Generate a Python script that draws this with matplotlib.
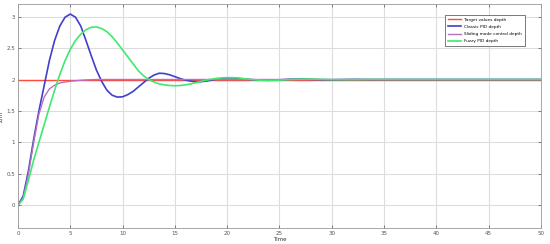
import matplotlib
matplotlib.use("Agg")
import matplotlib.pyplot as plt
import numpy as np

t = [0, 0.5, 1.0, 1.5, 2.0, 2.5, 3.0, 3.5, 4.0, 4.5, 5.0, 5.5, 6.0, 6.5, 7.0, 7.5,
     8.0, 8.5, 9.0, 9.5, 10.0, 10.5, 11.0, 11.5, 12.0, 12.5, 13.0, 13.5, 14.0, 14.5,
     15.0, 15.5, 16.0, 16.5, 17.0, 17.5, 18.0, 18.5, 19.0, 19.5, 20.0, 20.5, 21.0,
     21.5, 22.0, 23.0, 24.0, 25.0, 26.0, 27.0, 28.0, 29.0, 30.0, 32.0, 34.0, 36.0,
     40.0, 45.0, 50.0]

target = [2.0] * len(t)

classic_pid = [0, 0.15, 0.55, 1.05, 1.5, 1.9, 2.3, 2.62, 2.85, 2.99, 3.04, 2.99, 2.85,
               2.62, 2.38, 2.15, 1.97, 1.83, 1.75, 1.72, 1.725, 1.76, 1.81, 1.88, 1.95,
               2.02, 2.07, 2.1, 2.095, 2.075, 2.045, 2.015, 1.99, 1.975, 1.965, 1.965,
               1.975, 1.99, 2.005, 2.018, 2.025, 2.025, 2.018, 2.01, 2.002, 1.99, 1.988,
               1.995, 2.005, 2.008, 2.003, 1.997, 1.996, 2.002, 1.999, 2.0, 2.0, 2.0, 2.0]

sliding_mode = [0, 0.12, 0.5, 1.0, 1.45, 1.72, 1.85, 1.91, 1.945, 1.96, 1.972, 1.98,
                1.988, 1.993, 1.997, 2.0, 2.0, 2.0, 2.0, 2.0, 2.0, 2.0, 2.0, 2.0, 2.0,
                2.0, 2.0, 2.0, 2.0, 2.0, 2.0, 2.0, 2.0, 2.0, 2.0, 2.0, 2.0, 2.0, 2.0,
                2.0, 2.0, 2.0, 2.0, 2.0, 2.0, 2.0, 2.0, 2.0, 2.0, 2.0, 2.0, 2.0, 2.0,
                2.0, 2.0, 2.0, 2.0, 2.0, 2.0]

fuzzy_pid = [0, 0.1, 0.4, 0.72, 1.0, 1.28, 1.56, 1.83, 2.08, 2.3, 2.48, 2.62, 2.72,
             2.79, 2.83, 2.835, 2.81, 2.76, 2.68, 2.58, 2.47, 2.36, 2.25, 2.14, 2.06,
             2.0, 1.96, 1.93, 1.915, 1.905, 1.9, 1.905, 1.915, 1.93, 1.95, 1.97, 1.99,
             2.005, 2.018, 2.025, 2.03, 2.03, 2.025, 2.015, 2.005, 1.99, 1.985, 1.99,
             2.0, 2.006, 2.006, 2.002, 1.998, 1.998, 2.001, 2.0, 2.0, 2.0, 2.0]

labels = ["Target values depth", "Classic PID depth",
          "Sliding mode control depth", "Fuzzy PID depth"]
xticks = [0, 5, 10, 15, 20, 25, 30, 35, 40, 45, 50]
yticks = [0, 0.5, 1, 1.5, 2, 2.5, 3]

fig = plt.figure(figsize=(5.5, 2.44), dpi=100)
ax = fig.add_axes([0.0327, 0.0656, 0.9509, 0.918])

ax.plot(t, target, color="#ff4a3a", lw=1.0, label=labels[0])
ax.plot(t, classic_pid, color="#4040c8", lw=1.2, label=labels[1])
ax.plot(t, sliding_mode, color="#b870c0", lw=1.0, label=labels[2])
ax.plot(t, fuzzy_pid, color="#40e870", lw=1.2, label=labels[3])

ax.set_xlim(0, 50)
ax.set_ylim(-0.36, 3.2)
ax.set_xticks(xticks)
ax.set_yticks(yticks)
ax.set_xticklabels([str(v) for v in xticks])
ax.set_yticklabels([("%g" % v) for v in yticks])
ax.tick_params(labelsize=4, length=2, width=0.5, direction="in", colors="#555555",
               pad=2, top=True, right=True)
for s in ax.spines.values():
    s.set_color("#999999")
    s.set_linewidth(0.6)
ax.grid(True, color="#dddddd", lw=0.8)
ax.set_axisbelow(True)
ax.set_xlabel("Time", fontsize=4, labelpad=1, color="#333333")
ax.set_ylabel("Z/m", fontsize=4, labelpad=2, color="#333333")

leg = ax.legend(loc="upper right", bbox_to_anchor=(0.969, 0.951), fontsize=3.1,
                frameon=True, fancybox=False, edgecolor="#444444", framealpha=1,
                handlelength=3.2, handletextpad=0.7, labelspacing=0.75, borderpad=0.6,
                borderaxespad=0)
leg.get_frame().set_linewidth(0.5)

fig.savefig("out.png", dpi=100)
